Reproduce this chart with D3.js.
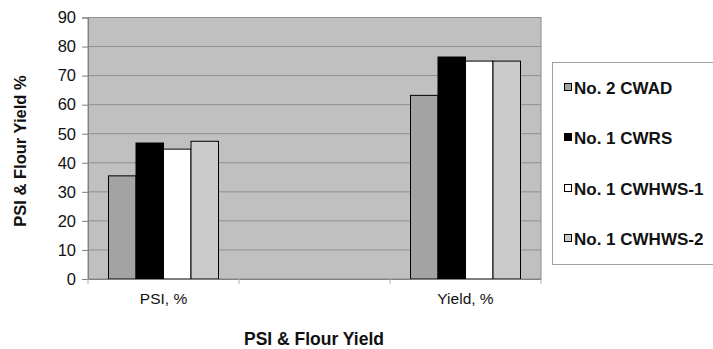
<!DOCTYPE html>
<html>
<head>
<meta charset="utf-8">
<script src="https://cdn.jsdelivr.net/npm/d3@7"></script>
<style>
  body { margin: 0; background: #fff; }
  text { font-family: "Liberation Sans", Arial, sans-serif; }
</style>
</head>
<body>
<svg id="chart" width="713" height="349"></svg>
<script>
const categories = ["PSI, %", "", "Yield, %"];
const seriesNames = ["No. 2 CWAD", "No. 1 CWRS", "No. 1 CWHWS-1", "No. 1 CWHWS-2"];
const psiValues = [35.5, 46.8, 44.7, 47.4];
const yieldValues = [63.2, 76.4, 75.0, 75.0];
const yTicks = [0, 10, 20, 30, 40, 50, 60, 70, 80, 90];
const colors = ["#a3a3a3", "#000000", "#ffffff", "#cbcbcb"];

const valuesByCat = { "PSI, %": psiValues, "Yield, %": yieldValues };

const svg = d3.select("#chart");
const L = 88, R = 541, T = 17.5, B = 279;

const x0 = d3.scaleBand().domain(categories).range([L, R]).padding(0);
const groupW = 110;
const x1 = d3.scaleBand().domain(seriesNames).range([0, groupW]).padding(0);
const y = d3.scaleLinear().domain([0, 90]).range([B, T]);

// plot background
svg.append("rect").attr("x", L).attr("y", T).attr("width", R - L).attr("height", B - T)
  .attr("fill", "#c0c0c0").attr("stroke", "#8c8c8c").attr("stroke-width", 1);

// gridlines
svg.append("g").selectAll("line").data(yTicks.filter(d => d > 0)).join("line")
  .attr("x1", L).attr("x2", R).attr("y1", d => y(d)).attr("y2", d => y(d))
  .attr("stroke", "#8f8f8f").attr("stroke-width", 1);

// bars
const groups = svg.append("g").selectAll("g")
  .data(categories.filter(c => valuesByCat[c]))
  .join("g")
  .attr("transform", c => `translate(${x0(c) + (x0.bandwidth() - groupW) / 2},0)`);

groups.selectAll("rect")
  .data(c => valuesByCat[c].map((v, i) => ({ name: seriesNames[i], v, i })))
  .join("rect")
  .attr("x", d => x1(d.name))
  .attr("y", d => y(d.v))
  .attr("width", x1.bandwidth())
  .attr("height", d => B - y(d.v))
  .attr("fill", d => colors[d.i])
  .attr("stroke", "#000").attr("stroke-width", 1);

// y axis
const yAxis = d3.axisLeft(y).tickValues(yTicks).tickSize(6).tickPadding(6);
const gy = svg.append("g").attr("transform", `translate(${L},0)`).call(yAxis);
gy.select(".domain").attr("stroke", "#808080");
gy.selectAll(".tick line").attr("stroke", "#808080");
gy.selectAll(".tick text").attr("font-size", 16.5).attr("fill", "#111")
  .attr("font-family", "Liberation Sans, Arial, sans-serif");

// x axis
const xAxis = d3.axisBottom(x0).tickSize(0).tickPadding(14);
const gx = svg.append("g").attr("transform", `translate(0,${B})`).call(xAxis);
gx.select(".domain").attr("stroke", "#808080");
gx.selectAll(".tick text").attr("font-size", 15.5).attr("fill", "#111")
  .attr("font-family", "Liberation Sans, Arial, sans-serif");
// category boundary ticks
const bounds = categories.map(c => x0(c)).concat([R]);
svg.append("g").selectAll("line").data(bounds).join("line")
  .attr("x1", d => d).attr("x2", d => d).attr("y1", B).attr("y2", B + 5)
  .attr("stroke", "#b0b0b0");

// axis titles
svg.append("text").attr("x", 314).attr("y", 345).attr("text-anchor", "middle")
  .attr("font-size", 17.5).attr("font-weight", "bold").attr("fill", "#111")
  .text("PSI & Flour Yield");
svg.append("text").attr("transform", "translate(26,151) rotate(-90)").attr("text-anchor", "middle")
  .attr("font-size", 16.5).attr("font-weight", "bold").attr("fill", "#111")
  .text("PSI & Flour Yield %");

// legend
const lg = svg.append("g");
lg.append("rect").attr("x", 552.5).attr("y", 62.5).attr("width", 170).attr("height", 202)
  .attr("fill", "#fff").attr("stroke", "#a0a0a0");
const legY = [87, 137, 188, 238];
const items = lg.selectAll("g").data(seriesNames).join("g")
  .attr("transform", (d, i) => `translate(564,${legY[i]})`);
items.append("rect").attr("x", 0.5).attr("y", -3.5).attr("width", 7).attr("height", 7)
  .attr("fill", (d, i) => colors[i]).attr("stroke", "#000");
items.append("text").attr("x", 10).attr("y", 6.5).attr("font-size", 17).attr("font-weight", "bold")
  .attr("fill", "#111").text(d => d);
</script>
</body>
</html>
